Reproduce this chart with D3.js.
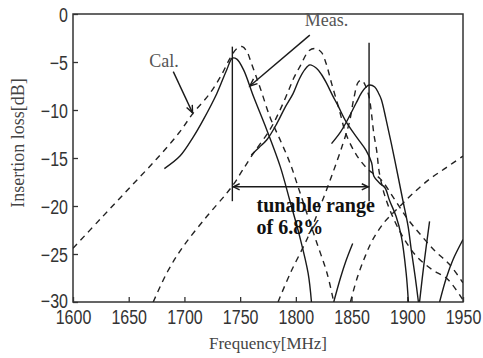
<!DOCTYPE html>
<html>
<head>
<meta charset="utf-8">
<script src="https://cdn.jsdelivr.net/npm/d3@7"></script>
<style>
  body { margin: 0; background: #fff; }
  svg { display: block; }
  .tick text { font-family: "Liberation Sans", Arial, sans-serif; font-size: 16px; fill: #333; }
  .tick line { stroke: #333; stroke-width: 1.3; }
</style>
</head>
<body>
<svg id="chart" width="483" height="358"></svg>
<script>
// tick labels
const xTicks = [1600, 1650, 1700, 1750, 1800, 1850, 1900, 1950];
const yTicks = [0, -5, -10, -15, -20, -25, -30];

// measured (solid) curves, [MHz, dB]; null = gap below the axis
const meas1 = [[1682,-16.1],[1696,-14.8],[1708,-12.8],[1717,-11],[1729,-8.3],[1738,-5.8],[1743,-4.6],[1747,-4.7],
  [1753,-5.8],[1762,-8.6],[1774,-12.1],[1786,-15.9],[1794.5,-19.4],[1803.5,-23.2],[1811,-27],[1814,-30],
  null,[1834,-30],[1840,-27.5],[1845,-25.7],[1851,-23.9]];
const meas2 = [[1760,-14.7],[1767,-13.9],[1774,-13.1],[1783,-11.4],[1790,-9.8],[1797.5,-8.3],[1803,-6.8],[1808,-5.8],
  [1812.5,-5.3],[1818.5,-5.65],[1823,-6.3],[1827.5,-7.2],[1833,-8.5],[1838,-9.6],[1845,-11.2],[1855,-12.9],
  [1863,-14.2],[1868,-15.5],[1870,-16.9],[1875,-17.6],[1880,-18.1],[1884,-19.4],[1890,-21.1],[1894.7,-23.2],
  [1899,-27],[1901,-30]];
const meas3 = [[1832,-13.5],[1840,-12.3],[1845.6,-11.2],[1854,-9.3],[1859,-8.2],[1863,-7.6],[1866,-7.4],[1870.8,-7.6],
  [1874,-8.2],[1876.7,-8.9],[1881,-11],[1885.7,-13.5],[1891.7,-16.9],[1896,-19.4],[1900.7,-22.1],[1903.6,-24.6],
  [1907,-27.3],[1910,-30],null,[1911,-30],[1915,-26],[1920,-21.6],null,[1929,-30],[1935,-27.5],[1941,-25.6],[1950,-23.5]];

// calculated (dashed) curves
const cal1 = [[1600,-24.4],[1625,-21.3],[1650,-18.2],[1675,-15.1],[1695,-12.4],[1708,-10.3],[1722,-8.4],[1733,-6.4],
  [1741,-4.6],[1747,-3.6],[1752,-3.4],[1756,-3.9],[1760,-5.1],[1768,-7.7],[1777,-10.8],[1787,-13.4],[1795,-15.6],
  [1802,-18],[1810,-20.8],[1819,-23.9],[1828,-27],[1834,-30],null,[1849,-30],[1855,-27.5],[1862,-25.3],
  [1869,-23.5],[1880,-21.6],[1892,-20.2],[1905,-18.7],[1920,-17.2],[1935,-16],[1950,-14.8]];
const cal2 = [[1672,-30],[1685,-26.8],[1699,-24.2],[1720,-21.1],[1737,-18.8],[1745,-17.6],[1752,-16.3],[1762,-14.5],
  [1777,-12],[1785,-10.2],[1793,-8.1],[1798,-6.7],[1804,-5.4],[1812,-3.8],[1818,-3.6],[1823,-4],[1827,-5.1],
  [1832,-7.2],[1839,-10],[1845,-12.5],[1855,-14.8],[1865,-16.2],[1876,-17.2],[1888,-19.2],[1900,-21.3],
  [1912,-23],[1925,-24.7],[1938,-26.1],[1950,-28]];
const cal3 = [[1784,-30],[1795,-27],[1811,-23.2],[1822,-20],[1833,-16.6],[1842,-13.6],[1848,-11.3],[1852,-8.8],
  [1856,-7.1],[1859,-6.9],[1863,-7.6],[1866,-8.8],[1868,-10.5],[1870,-12.5],[1872.5,-14.2],[1875,-16.6],
  [1880,-19],[1888,-21.4],[1897,-23.4],[1908,-25.2],[1922,-26.6],[1936,-27.6],[1950,-29.8]];

// tunable range markers
const rangeLow = 1743, rangeHigh = 1865.7;
const markerTop = [-3.4, -3.0], markerBottom = -19.5, rangeLevel = -18;

// annotation arrows: [from, to]
const calArrow = [[1690,-6.0],[1707.3,-10.3]];
const measArrow = [[1812.5,-2.2],[1758.7,-7.5]];

const margin = { top: 14, right: 20, bottom: 56, left: 73 },
  width = 483 - margin.left - margin.right,
  height = 358 - margin.top - margin.bottom;

const svg = d3.select("#chart")
  .append("g")
  .attr("transform", `translate(${margin.left},${margin.top})`);

const x = d3.scaleLinear().domain([1600, 1950]).range([0, width]);
const y = d3.scaleLinear().domain([-30, 0]).range([height, 0]);

svg.append("clipPath").attr("id", "clip")
  .append("rect").attr("width", width).attr("height", height);

// axes with inward ticks
svg.append("g")
  .attr("transform", `translate(0,${height})`)
  .call(d3.axisBottom(x).tickValues(xTicks).tickSize(-5).tickFormat(d3.format("d")))
  .call(g => g.select(".domain").remove())
  .call(g => g.selectAll("text").attr("y", 0).attr("dy", null)
    .attr("transform", "translate(0,22) scale(1,1.25)"));

svg.append("g")
  .call(d3.axisLeft(y).tickValues(yTicks).tickSize(-5).tickFormat(d3.format("d")))
  .call(g => g.select(".domain").remove())
  .call(g => g.selectAll("text").attr("x", 0).attr("dy", null)
    .attr("transform", d => d === -30 ? "translate(-5,5.5) scale(1,1.25)" : "translate(-5,7) scale(1,1.25)"));

svg.append("rect")
  .attr("width", width).attr("height", height)
  .attr("fill", "none").attr("stroke", "#333").attr("stroke-width", 1.5);

const line = d3.line()
  .defined(d => d !== null)
  .x(d => x(d[0])).y(d => y(d[1]))
  .curve(d3.curveCatmullRom.alpha(0.5));

const curves = svg.append("g").attr("clip-path", "url(#clip)");

[cal1, cal2, cal3].forEach(c => {
  curves.append("path").datum(c)
    .attr("d", line).attr("fill", "none")
    .attr("stroke", "#222").attr("stroke-width", 1.4)
    .attr("stroke-dasharray", "6,5");
});

[meas1, meas2, meas3].forEach(c => {
  curves.append("path").datum(c)
    .attr("d", line).attr("fill", "none")
    .attr("stroke", "#1a1a1a").attr("stroke-width", 1.4);
});

// vertical markers and range arrow
const ann = svg.append("g").attr("stroke", "#1a1a1a").attr("stroke-width", 1.4).attr("fill", "none");
[rangeLow, rangeHigh].forEach((f, i) => {
  ann.append("line")
    .attr("x1", x(f)).attr("x2", x(f))
    .attr("y1", y(markerTop[i])).attr("y2", y(markerBottom));
});
ann.append("line")
  .attr("x1", x(rangeLow)).attr("x2", x(rangeHigh))
  .attr("y1", y(rangeLevel)).attr("y2", y(rangeLevel));

function arrowHead(tip, from, len, spread) {
  const a = Math.atan2(tip[1] - from[1], tip[0] - from[0]);
  const p1 = [tip[0] - len * Math.cos(a - spread), tip[1] - len * Math.sin(a - spread)];
  const p2 = [tip[0] - len * Math.cos(a + spread), tip[1] - len * Math.sin(a + spread)];
  return `M${p1}L${tip}L${p2}`;
}

const ry = y(rangeLevel);
ann.append("path").attr("d", arrowHead([x(rangeLow) + 1, ry], [x(rangeHigh), ry], 7, 0.45));
ann.append("path").attr("d", arrowHead([x(rangeHigh) - 1, ry], [x(rangeLow), ry], 7, 0.45));

[calArrow, measArrow].forEach(a => {
  const p0 = [x(a[0][0]), y(a[0][1])], p1 = [x(a[1][0]), y(a[1][1])];
  ann.append("line").attr("x1", p0[0]).attr("y1", p0[1]).attr("x2", p1[0]).attr("y2", p1[1]);
  ann.append("path").attr("d", arrowHead(p1, p0, 8, 0.4));
});

// labels
const serif = "'Liberation Serif', 'Times New Roman', serif";
svg.append("text").attr("x", x(1668.4)).attr("y", y(-5.5))
  .style("font-family", serif).style("font-size", "18px").attr("fill", "#555").text("Cal.");
svg.append("text").attr("x", x(1808)).attr("y", y(-1.3))
  .style("font-family", serif).style("font-size", "18px").attr("fill", "#555").text("Meas.");
svg.append("text").attr("x", x(1764.7)).attr("y", y(-20.6))
  .style("font-family", serif).style("font-size", "20px").style("font-weight", "bold")
  .attr("fill", "#111").text("tunable range");
svg.append("text").attr("x", x(1764.7)).attr("y", y(-22.9))
  .style("font-family", serif).style("font-size", "20px").style("font-weight", "bold")
  .attr("fill", "#111").text("of 6.8%");

svg.append("text")
  .attr("x", width / 2).attr("y", height + 47)
  .attr("text-anchor", "middle")
  .style("font-family", serif).style("font-size", "17px").attr("fill", "#444")
  .text("Frequency[MHz]");

svg.append("text")
  .attr("transform", `translate(${24 - margin.left},${143 - margin.top}) rotate(-90)`)
  .attr("text-anchor", "middle")
  .style("font-family", serif).style("font-size", "18px").attr("fill", "#444")
  .text("Insertion loss[dB]");
</script>
</body>
</html>
